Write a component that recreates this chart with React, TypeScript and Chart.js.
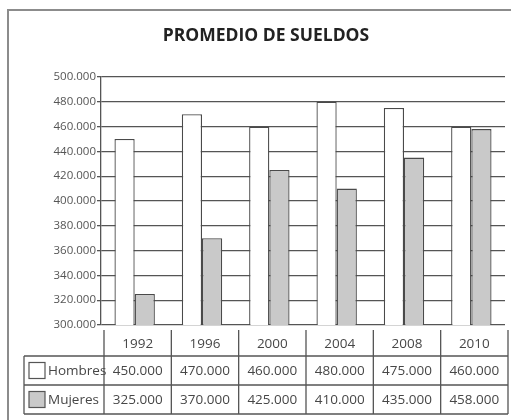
import { useEffect, useRef } from "react";
import { Chart, registerables } from "chart.js";
Chart.register(...registerables);

const chartTitle = "PROMEDIO DE SUELDOS";
const categories = ["1992", "1996", "2000", "2004", "2008", "2010"];
const seriesNames = ["Hombres", "Mujeres"];
const hombres = [450000, 470000, 460000, 480000, 475000, 460000];
const mujeres = [325000, 370000, 425000, 410000, 435000, 458000];
const yMin = 300000;
const yMax = 500000;
const yStep = 20000;

const FONT = "'Open Sans', 'Noto Sans', sans-serif";
const LINE = "#555555";
const TEXT = "#474747";
const GRAY_FILL = "#c9c9c9";

function fmt(v: number): string {
  const s = String(Math.round(v));
  return s.replace(/\B(?=(\d{3})+(?!\d))/g, ".");
}

const tablePlugin = {
  id: "tablePlugin",
  afterDraw(chart: any) {
    const ctx = chart.ctx as CanvasRenderingContext2D;
    const area = chart.chartArea;
    const n = categories.length;
    const catW = (area.right - area.left) / n;
    const off = 3;
    const b = (i: number) => area.left + i * catW + off;

    ctx.save();
    // outer frame
    ctx.strokeStyle = "#8c8c8c";
    ctx.lineWidth = 2;
    ctx.beginPath();
    ctx.moveTo(8, 420);
    ctx.lineTo(8, 10);
    ctx.lineTo(511, 10);
    ctx.stroke();

    // title
    ctx.fillStyle = "#222222";
    ctx.font = `bold 17.5px ${FONT}`;
    ctx.textAlign = "center";
    ctx.textBaseline = "middle";
    ctx.fillText(chartTitle, 266, 36);

    // table lines
    const yTop = area.bottom + 5;
    const yH = area.bottom + 31;
    const yR1 = area.bottom + 60;
    const yR2 = area.bottom + 89;
    const xLeft = 24;
    ctx.strokeStyle = LINE;
    ctx.lineWidth = 1.3;
    ctx.beginPath();
    for (let i = 0; i <= n; i++) {
      ctx.moveTo(b(i), yTop);
      ctx.lineTo(b(i), yR2);
    }
    [yH, yR1, yR2].forEach((y) => {
      ctx.moveTo(xLeft, y);
      ctx.lineTo(b(n), y);
    });
    ctx.moveTo(xLeft, yH);
    ctx.lineTo(xLeft, yR2);
    ctx.stroke();

    // header and values
    ctx.fillStyle = TEXT;
    ctx.font = `13.5px ${FONT}`;
    ctx.textAlign = "center";
    ctx.textBaseline = "middle";
    for (let i = 0; i < n; i++) {
      const cx = b(i) + catW / 2;
      ctx.fillText(categories[i], cx, (yTop + yH) / 2 + 1);
      ctx.fillText(fmt(hombres[i]), cx, (yH + yR1) / 2 + 1);
      ctx.fillText(fmt(mujeres[i]), cx, (yR1 + yR2) / 2 + 1);
    }

    // legend keys
    const fills = ["#ffffff", GRAY_FILL];
    const rows: Array<[number, number]> = [[yH, yR1], [yR1, yR2]];
    rows.forEach(([a, c], k) => {
      const cy = (a + c) / 2;
      ctx.fillStyle = fills[k];
      ctx.fillRect(29, cy - 8, 16, 16);
      ctx.strokeStyle = LINE;
      ctx.lineWidth = 1.2;
      ctx.strokeRect(29, cy - 8, 16, 16);
      ctx.fillStyle = TEXT;
      ctx.textAlign = "left";
      ctx.font = `13.5px ${FONT}`;
      ctx.fillText(seriesNames[k], 48, cy + 1);
    });
    ctx.restore();
  },
};

export default function App() {
  const ref = useRef<HTMLCanvasElement | null>(null);
  useEffect(() => {
    if (!ref.current) return;
    const chart = new Chart(ref.current, {
      type: "bar",
      data: {
        labels: categories,
        datasets: [
          {
            label: seriesNames[0],
            data: hombres,
            backgroundColor: "#ffffff",
            borderColor: "#4a4a4a",
            borderWidth: 1.3,
          },
          {
            label: seriesNames[1],
            data: mujeres,
            backgroundColor: GRAY_FILL,
            borderColor: "#4a4a4a",
            borderWidth: 1.3,
          },
        ],
      },
      options: {
        animation: false,
        responsive: false,
        maintainAspectRatio: false,
        layout: { padding: { left: 0, right: 6, top: 77, bottom: 95 } },
        plugins: {
          legend: { display: false },
          title: { display: false },
          tooltip: { enabled: false },
        },
        datasets: { bar: { categoryPercentage: 0.6, barPercentage: 1.0 } },
        scales: {
          x: { display: false },
          y: {
            min: yMin,
            max: yMax,
            afterFit(scale: any) {
              scale.width = 101;
            },
            ticks: {
              stepSize: yStep,
              padding: 1,
              color: "#555555",
              font: { family: FONT, size: 11.5 },
              callback: (v: any) => fmt(Number(v)),
            },
            grid: {
              color: LINE,
              lineWidth: 1.3,
              tickLength: 4,
              drawTicks: true,
            },
            border: { display: true, color: LINE, width: 1.3 },
          },
        },
      },
      plugins: [tablePlugin],
    });
    return () => chart.destroy();
  }, []);
  return (
    <div style={{ position: "fixed", left: 0, top: 0, width: 511, height: 420, background: "#fff" }}>
      <canvas ref={ref} width={511} height={420} style={{ width: 511, height: 420, display: "block" }} />
    </div>
  );
}
